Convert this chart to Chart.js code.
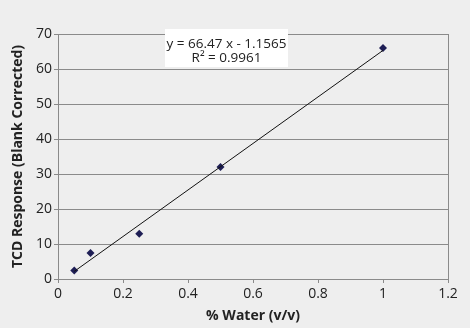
<!DOCTYPE html>
<html>
<head>
<meta charset="utf-8">
<script src="https://cdn.jsdelivr.net/npm/chart.js@4/dist/chart.umd.min.js"></script>
<style>
  body { margin: 0; background: #fff; }
  #wrap { position: absolute; left: 0; top: 0; width: 470px; height: 328px; background: #eeeeee; }
</style>
</head>
<body>
<div id="wrap"><canvas id="chart" width="470" height="328"></canvas></div>
<script>
// measured points
const waterPct = [0.05, 0.1, 0.25, 0.5, 1.0];
const tcdResponse = [2.4, 7.4, 12.9, 32, 66];

// linear fit, end points
const trendX = [0.05, 1.0];
const trendY = [2.17, 65.31];

const xTicks = [0, 0.2, 0.4, 0.6, 0.8, 1, 1.2];
const yTicks = [0, 10, 20, 30, 40, 50, 60, 70];

const eqLines = ["y = 66.47 x - 1.1565", "R\u00B2 = 0.9961"];

const FONT = "'Open Sans', 'Noto Sans', sans-serif";

// frame + equation box
const framePlugin = {
  id: "frame",
  afterDatasetsDraw(chart) {
    const { ctx, chartArea: a } = chart;
    ctx.save();
    ctx.strokeStyle = "#8a8a8a";
    ctx.lineWidth = 1;
    ctx.strokeRect(Math.round(a.left) + 0.5, Math.round(a.top) + 0.5,
      Math.round(a.right - a.left), Math.round(a.bottom - a.top));

    // equation label
    const bx = a.left + 107, by = a.top - 5, bw = 123, bh = 38;
    ctx.fillStyle = "#ffffff";
    ctx.fillRect(bx, by, bw, bh);
    ctx.fillStyle = "#222";
    ctx.font = "13.5px " + FONT;
    ctx.textAlign = "center";
    ctx.textBaseline = "middle";
    ctx.fillText(eqLines[0], bx + bw / 2, by + 15);
    ctx.fillText(eqLines[1], bx + bw / 2, by + 29);
    ctx.restore();
  }
};

new Chart(document.getElementById("chart"), {
  type: "scatter",
  data: {
    datasets: [
      {
        label: "fit",
        type: "line",
        data: trendX.map((x, i) => ({ x: x, y: trendY[i] })),
        borderColor: "#111",
        borderWidth: 1,
        pointRadius: 0,
        fill: false,
      },
      {
        label: "TCD",
        data: waterPct.map((x, i) => ({ x: x, y: tcdResponse[i] })),
        pointStyle: "rectRot",
        pointRadius: 4,
        backgroundColor: "#1e1e55",
        borderColor: "#1e1e55",
        borderWidth: 0,
      },
    ],
  },
  options: {
    responsive: false,
    animation: false,
    layout: { padding: { top: 34, right: 22, left: 6, bottom: 0 } },
    plugins: { legend: { display: false }, tooltip: { enabled: false } },
    scales: {
      x: {
        type: "linear",
        min: 0,
        max: 1.2,
        afterBuildTicks: (s) => { s.ticks = xTicks.map((v) => ({ value: v })); },
        afterFit: (s) => { s.height = 49; },
        ticks: {
          color: "#222",
          font: { family: FONT, size: 14 },
          padding: 3,
          callback: (v) => String(Math.round(v * 10) / 10),
        },
        grid: { drawOnChartArea: false, color: "#8a8a8a", tickLength: 4 },
        border: { color: "#8a8a8a" },
        title: {
          display: true,
          text: "% Water (v/v)",
          color: "#222",
          font: { family: FONT, size: 14, weight: "bold" },
          padding: { top: 1 },
        },
      },
      y: {
        min: 0,
        max: 70,
        afterBuildTicks: (s) => { s.ticks = yTicks.map((v) => ({ value: v })); },
        afterFit: (s) => { s.width = 52; },
        ticks: {
          color: "#222",
          font: { family: FONT, size: 14 },
          padding: 2,
        },
        grid: { color: "#8a8a8a", tickLength: 4 },
        border: { color: "#8a8a8a" },
        title: {
          display: true,
          text: "TCD Response (Blank Corrected)",
          color: "#222",
          font: { family: FONT, size: 14, weight: "bold" },
          padding: { bottom: 0 },
        },
      },
    },
  },
  plugins: [framePlugin],
});
</script>
</body>
</html>
